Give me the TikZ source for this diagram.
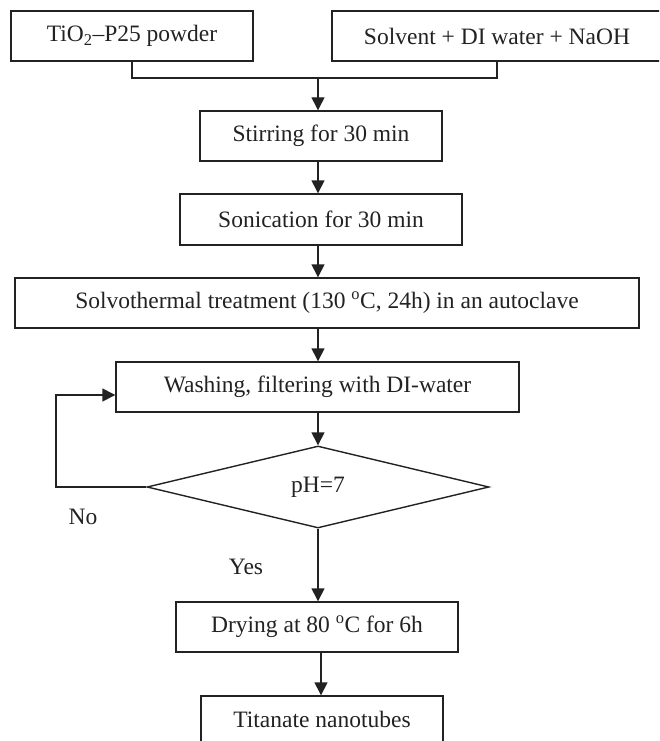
\documentclass[tikz,border=0pt]{standalone}
\usepackage{fontspec}
\setmainfont{Liberation Serif}
\usetikzlibrary{arrows.meta,shapes.geometric,calc}
\definecolor{ink}{HTML}{222222}
\begin{document}
\begin{tikzpicture}[x=1pt,y=-1pt,
  every node/.style={font=\fontsize{23.5}{28}\selectfont, text=ink},
  box/.style={draw=ink, line width=1.4pt, rectangle, inner sep=0pt, minimum height=50pt},
  dia/.style={draw=ink, line width=1.4pt, diamond, inner sep=0pt, minimum width=342pt, minimum height=82pt, shape aspect=4.17},
  link/.style={draw=ink, line width=1.4pt},
  arr/.style={link, -{Triangle[length=13pt,width=13pt]}}]
\useasboundingbox (0,0) rectangle (659,741);
\clip (0,0) rectangle (659,741);
\node[box, minimum width=242pt] (A) at (132,36) {TiO\textsubscript{2}--P25 powder};
\node[box, minimum width=330pt] (B) at (497,36) {Solvent + DI water + NaOH};
\coordinate (m) at (318,78);
\node[box, minimum width=242pt] (stir) at (321,136) {Stirring for 30 min};
\node[box, minimum width=282pt, minimum height=51pt] (son) at (321,219.5) {Sonication for 30 min};
\node[box, minimum width=624pt] (solv) at (327,303) {Solvothermal treatment (130 \textsuperscript{o}C, 24h) in an autoclave};
\node[box, minimum width=403pt] (wash) at (317.5,387) {Washing, filtering with DI-water};
\node[dia] (ph) at (318,487) {pH=7};
\coordinate (loop) at (56,487);
\node (no) at (83,517) {No};
\node (yes) at (246,567) {Yes};
\node[box, minimum width=282pt] (dry) at (317,627) {Drying at 80 \textsuperscript{o}C for 6h};
\node[box, minimum width=242pt, minimum height=46pt] (tit) at (322,719) {Titanate nanotubes};
\coordinate (d1) at ($(dry.south)+(4,0)$);
\coordinate (w1) at ($(wash.west)+(0,8)$);
\draw[link] (A.south) |- (m) -| (B.south);
\draw[arr] (m) -- (m |- stir.north);
\draw[arr] (m |- stir.south) -- (m |- son.north);
\draw[arr] (m |- son.south) -- (m |- solv.north);
\draw[arr] (m |- solv.south) -- (m |- wash.north);
\draw[arr] (ph.north |- wash.south) -- (ph.north);
\draw[arr] (ph.west) -- (loop) |- (w1);
\draw[arr] (ph.south) -- (ph.south |- dry.north);
\draw[arr] (d1) -- (d1 |- tit.north);
\end{tikzpicture}
\end{document}
